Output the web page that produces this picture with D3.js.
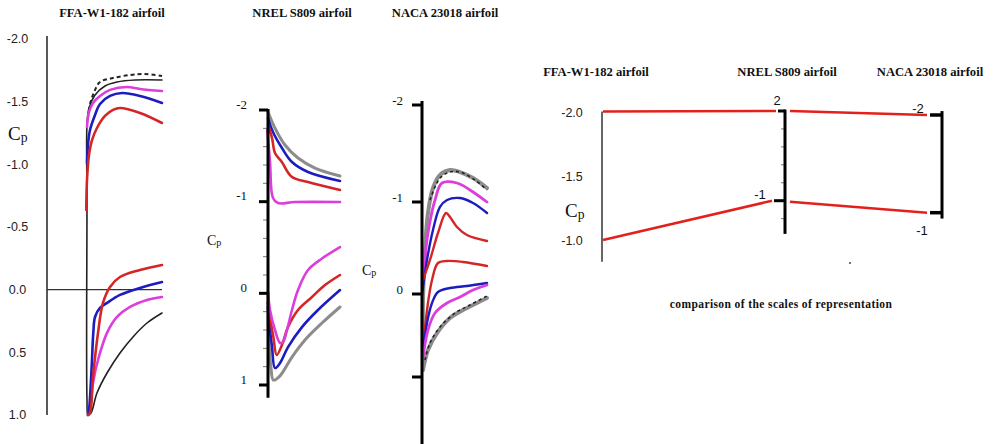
<!DOCTYPE html>
<html><head><meta charset="utf-8">
<script src="https://cdn.jsdelivr.net/npm/d3@7"></script>
<style>body{margin:0;background:#fff}svg{display:block}</style>
</head><body>
<svg id="c" width="993" height="444"></svg>
<script>
// ---------------- DATA ----------------
const titles = ["FFA-W1-182 airfoil", "NREL S809 airfoil", "NACA 23018 airfoil"];
const caption = "comparison of the scales of representation";

// FFA-W1-182 : [x/c (visible part), Cp]
const ffaTicks = [-2, -1.5, -1, -0.5, 0, 0.5, 1];
const ffaDashed = [[0.013,-1.37],[0.04,-1.482],[0.107,-1.593],[0.173,-1.657],[0.347,-1.689],[0.573,-1.713],[0.773,-1.721],[1.0,-1.705]];
const ffaBlack = [[1.0,0.186],[0.8,0.266],[0.613,0.377],[0.44,0.505],[0.267,0.665],[0.133,0.824],[0.053,0.984],[0.013,1.0],[0,0.88],[0,-0.716],[0,-1.314],[0.027,-1.45],[0.107,-1.553],[0.24,-1.625],[0.4,-1.657],[0.64,-1.673],[1.0,-1.673]];
const ffaMagentaUp = [[0,-1.298],[0.027,-1.418],[0.08,-1.49],[0.173,-1.546],[0.307,-1.594],[0.533,-1.617],[0.707,-1.601],[1.0,-1.585]];
const ffaBlueUp = [[0,-1.011],[0.013,-1.155],[0.04,-1.274],[0.107,-1.394],[0.173,-1.482],[0.307,-1.546],[0.467,-1.569],[0.707,-1.546],[1.0,-1.49]];
const ffaRedUp = [[-0.01,-0.636],[0,-0.875],[0.027,-1.075],[0.067,-1.194],[0.133,-1.29],[0.24,-1.386],[0.347,-1.434],[0.44,-1.45],[0.707,-1.41],[1.0,-1.33]];
const ffaRedLow = [[0.013,1.0],[0.04,0.984],[0.08,0.696],[0.147,0.345],[0.213,0.106],[0.307,-0.022],[0.44,-0.101],[0.707,-0.157],[1.0,-0.197]];
const ffaBlueLow = [[0.013,1.0],[0.027,0.96],[0.062,0.617],[0.084,0.345],[0.107,0.218],[0.173,0.146],[0.267,0.106],[0.44,0.042],[0.707,-0.014],[1.0,-0.061]];
const ffaMagentaLow = [[0.013,1.0],[0.04,0.936],[0.08,0.744],[0.147,0.561],[0.267,0.345],[0.4,0.218],[0.573,0.138],[0.8,0.082],[1.0,0.058]];

// NREL S809
const nrelTicks = [-2, -1, 0, 1];
const nrelTickLabels = ["-2", "-1", "0", "1"];
const nrelMinor = [-1.8,-1.6,-1.4,-1.2,-0.8,-0.6,-0.4,-0.2,0.2,0.4,0.6,0.8];
const nrelGrayUp = [[0,-1.978],[0.097,-1.803],[0.236,-1.618],[0.417,-1.476],[0.653,-1.367],[1.0,-1.28]];
const nrelBlueUp = [[0,-1.912],[0.069,-1.76],[0.194,-1.585],[0.333,-1.432],[0.556,-1.323],[1.0,-1.225]];
const nrelRedUp = [[0,-1.836],[0.056,-1.694],[0.097,-1.531],[0.19,-1.436],[0.329,-1.272],[0.556,-1.214],[1.0,-1.127]];
const nrelMagentaUp = [[-0.01,-1.781],[0.028,-1.432],[0.069,-1.04],[0.139,-0.985],[0.375,-0.996],[1.0,-0.996]];
const nrelMagentaLow = [[0,-0.017],[0.028,0.182],[0.097,0.4],[0.167,0.542],[0.208,0.531],[0.264,0.4],[0.333,0.182],[0.417,-0.036],[0.556,-0.254],[0.75,-0.38],[1.0,-0.505]];
const nrelRedLow = [[0,0.0],[0.005,0.146],[0.074,0.473],[0.12,0.673],[0.194,0.564],[0.278,0.368],[0.417,0.182],[0.611,0.04],[0.792,-0.09],[1.0,-0.2]];
const nrelBlueLow = [[0,0.1],[0.005,0.215],[0.056,0.586],[0.097,0.815],[0.167,0.76],[0.278,0.586],[0.472,0.368],[0.694,0.182],[1.0,-0.036]];
const nrelGrayLow = [[0,0.15],[0.01,0.477],[0.04,0.8],[0.075,0.946],[0.167,0.9],[0.333,0.695],[0.514,0.509],[0.75,0.324],[1.0,0.149]];

// NACA 23018
const nacaTicks = [-2, -1, 0, 1];
const nacaTickLabels = ["-2", "-1", "0", ""];
const nacaGrayUp = [[0.015,0.85],[0.015,0.072],[0.046,-0.478],[0.092,-0.88],[0.169,-1.144],[0.277,-1.28],[0.431,-1.33],[0.585,-1.309],[0.785,-1.247],[1.0,-1.144]];
const nacaDashUp = [[0.123,-1.021],[0.277,-1.247],[0.431,-1.309],[0.585,-1.309],[0.815,-1.227],[1.0,-1.124]];
const nacaMagentaUp = [[0.015,-0.185],[0.092,-0.663],[0.2,-1.021],[0.308,-1.196],[0.538,-1.196],[0.738,-1.124],[1.0,-1.0]];
const nacaBlueUp = [[0,0.012],[0.077,-0.37],[0.169,-0.696],[0.277,-0.946],[0.385,-1.021],[0.585,-1.041],[0.785,-0.989],[1.0,-0.88]];
const nacaRedUp = [[0.015,-0.152],[0.123,-0.37],[0.246,-0.663],[0.369,-0.88],[0.431,-0.837],[0.538,-0.728],[0.692,-0.641],[1.0,-0.576]];
const nacaRedLow = [[0.008,0.8],[0.015,0.675],[0.077,0.193],[0.154,-0.152],[0.246,-0.337],[0.385,-0.359],[0.631,-0.348],[1.0,-0.304]];
const nacaBlueLow = [[0.008,0.78],[0.015,0.711],[0.077,0.349],[0.154,0.108],[0.246,-0.022],[0.431,-0.065],[0.692,-0.087],[1.0,-0.12]];
const nacaMagentaLow = [[0.008,0.8],[0.015,0.759],[0.092,0.434],[0.2,0.229],[0.385,0.108],[0.585,0.036],[0.785,-0.043],[1.0,-0.098]];
const nacaGrayLow = [[0.015,0.916],[0.092,0.675],[0.231,0.47],[0.431,0.289],[0.631,0.193],[0.846,0.108],[1.0,0.048]];
const nacaDashLow = [[0.046,0.795],[0.123,0.59],[0.277,0.398],[0.508,0.229],[0.738,0.133],[1.0,0.024]];

// Comparison of the scales
const cmpValues = [-2, -1];
const cmpFfaTicks = [-2, -1.5, -1];
const cmpNrelLabels = ["2", "-1"];
const cmpNacaLabels = ["-2", "-1"];
const cmpNrelMinor = [-1.8, -1.6, -1.4, -1.2, -0.8];

// ---------------- DRAWING ----------------
const C = {red:"#d42626", blue:"#1c1cbf", magenta:"#dc3edc", gray:"#8c8c8c", black:"#2a2a2a", line:"#e3211c"};
const serif = "'Liberation Serif','Times New Roman',serif";
const sans = "'Liberation Sans',Arial,sans-serif";
const svg = d3.select("#c");
const fmt1 = v => d3.format(".1f")(v).replace("\u2212", "-");

function curve(g, data, x, y, color, w, dash) {
  const p = g.append("path").datum(data)
    .attr("d", d3.line().x(d => x(d[0])).y(d => y(d[1])).curve(d3.curveCatmullRom.alpha(0.5)))
    .attr("fill", "none").attr("stroke", color).attr("stroke-width", w)
    .attr("stroke-linejoin", "round").attr("stroke-linecap", "round");
  if (dash) p.attr("stroke-dasharray", dash).attr("stroke-linecap", "butt");
}
function title(x, y, t) {
  svg.append("text").attr("x", x).attr("y", y).attr("text-anchor", "middle")
    .attr("font-family", serif).attr("font-weight", "bold").attr("font-size", 12.6).attr("fill", "#111").text(t);
}
function cpLabel(x, y, size, fam) {
  const t = svg.append("text").attr("x", x).attr("y", y).attr("font-family", fam || serif)
    .attr("font-size", size).attr("fill", "#111");
  t.append("tspan").text("C");
  t.append("tspan").attr("font-size", size * 0.72).attr("dy", size * 0.1).text("p");
}

// ---- Panel 1 : FFA-W1-182
{
  const x = d3.scaleLinear([0, 1], [87, 162]);
  const y = d3.scaleLinear([-2, 1], [39, 415]);
  const g = svg.append("g");
  g.append("line").attr("x1", 47).attr("x2", 47).attr("y1", y(-2) - 3).attr("y2", y(1))
    .attr("stroke", "#222").attr("stroke-width", 1.5);
  g.append("line").attr("x1", 47).attr("x2", x(1)).attr("y1", y(0)).attr("y2", y(0))
    .attr("stroke", "#333").attr("stroke-width", 1.3);
  g.selectAll("text.t").data(ffaTicks).join("text").attr("class", "t")
    .attr("x", 17.5).attr("y", d => y(d)).attr("dy", "0.35em").attr("text-anchor", "middle")
    .attr("font-family", sans).attr("font-size", 12.5).attr("fill", "#222").text(fmt1);
  curve(g, ffaBlack, x, y, "#222", 1.6);
  curve(g, ffaDashed, x, y, "#222", 2, "4,3");
  curve(g, ffaMagentaUp, x, y, C.magenta, 2.6);
  curve(g, ffaBlueUp, x, y, C.blue, 2.6);
  curve(g, ffaRedUp, x, y, C.red, 2.6);
  curve(g, ffaMagentaLow, x, y, C.magenta, 2.6);
  curve(g, ffaBlueLow, x, y, C.blue, 2.6);
  curve(g, ffaRedLow, x, y, C.red, 2.6);
  title(112, 17, titles[0]);
  cpLabel(8, 140, 19);
}

// ---- Panel 2 : NREL S809
{
  const x = d3.scaleLinear([0, 1], [268, 340]);
  const y = d3.scaleLinear([-2, 1], [110, 385]);
  const g = svg.append("g");
  curve(g, nrelGrayUp, x, y, C.gray, 3);
  curve(g, nrelBlueUp, x, y, C.blue, 2.6);
  curve(g, nrelRedUp, x, y, C.red, 2.6);
  curve(g, nrelMagentaUp, x, y, C.magenta, 2.6);
  curve(g, nrelGrayLow, x, y, C.gray, 3);
  curve(g, nrelBlueLow, x, y, C.blue, 2.6);
  curve(g, nrelRedLow, x, y, C.red, 2.6);
  curve(g, nrelMagentaLow, x, y, C.magenta, 2.6);
  g.selectAll("line.mn").data(nrelMinor).join("line").attr("class", "mn")
    .attr("x1", 263).attr("x2", 267).attr("y1", d => y(d)).attr("y2", d => y(d))
    .attr("stroke", "#777").attr("stroke-width", 1);
  g.selectAll("line.mj").data(nrelTicks).join("line").attr("class", "mj")
    .attr("x1", 259).attr("x2", 268).attr("y1", d => y(d)).attr("y2", d => y(d))
    .attr("stroke", "#000").attr("stroke-width", 3);
  g.append("line").attr("x1", 268).attr("x2", 268).attr("y1", y(-2) - 1).attr("y2", y(1.14))
    .attr("stroke", "#000").attr("stroke-width", 3);
  g.selectAll("text.t").data(nrelTicks).join("text").attr("class", "t")
    .attr("x", 247).attr("y", d => y(d) - 6).attr("dy", "0.35em").attr("text-anchor", "end")
    .attr("font-family", serif).attr("font-size", 13).attr("fill", "#111").text((d, i) => nrelTickLabels[i]);
  title(302, 17, titles[1]);
  cpLabel(207, 245, 14);
}

// ---- Panel 3 : NACA 23018
{
  const x = d3.scaleLinear([0, 1], [422, 487]);
  const y = d3.scaleLinear().domain([-2, -1, 0, 1]).range([105, 202, 294, 377]);
  const g = svg.append("g");
  curve(g, nacaGrayUp, x, y, C.gray, 4);
  curve(g, nacaGrayLow, x, y, C.gray, 4);
  curve(g, nacaDashUp, x, y, "#222", 1.6, "3,3");
  curve(g, nacaDashLow, x, y, "#222", 1.6, "3,3");
  curve(g, nacaMagentaUp, x, y, C.magenta, 2.8);
  curve(g, nacaBlueUp, x, y, C.blue, 2.4);
  curve(g, nacaRedUp, x, y, C.red, 2.4);
  curve(g, nacaRedLow, x, y, C.red, 2.4);
  curve(g, nacaBlueLow, x, y, C.blue, 2.4);
  curve(g, nacaMagentaLow, x, y, C.magenta, 2.8);
  g.selectAll("line.mj").data(nacaTicks).join("line").attr("class", "mj")
    .attr("x1", 412).attr("x2", 422).attr("y1", d => y(d)).attr("y2", d => y(d))
    .attr("stroke", "#000").attr("stroke-width", 3);
  g.append("line").attr("x1", 422).attr("x2", 422).attr("y1", y(-2) - 4).attr("y2", 444)
    .attr("stroke", "#000").attr("stroke-width", 3);
  g.selectAll("text.t").data(nacaTicks).join("text").attr("class", "t")
    .attr("x", 403).attr("y", d => y(d) - 5).attr("dy", "0.35em").attr("text-anchor", "end")
    .attr("font-family", serif).attr("font-size", 13).attr("fill", "#111").text((d, i) => nacaTickLabels[i]);
  title(445, 17, titles[2]);
  cpLabel(362, 275, 14);
}

// ---- Panel 4 : comparison of the scales
{
  const g = svg.append("g");
  const ffaX = 602, nrelX = 785, nacaX = 942;
  const sF = d3.scaleLinear([-2, -1], [111.5, 240]);
  const sN = d3.scaleLinear([-2, -1], [111, 200.7]);
  const sA = d3.scaleLinear([-2, -1], [115, 212.7]);
  const nrelTickLen = v => v === -2 ? 7 : 11;
  g.selectAll("line.a").data(cmpValues).join("line").attr("class", "a")
    .attr("x1", ffaX + 1).attr("y1", d => sF(d))
    .attr("x2", d => nrelX - nrelTickLen(d) - 2).attr("y2", d => sN(d))
    .attr("stroke", C.line).attr("stroke-width", 2.6);
  g.selectAll("line.b").data(cmpValues).join("line").attr("class", "b")
    .attr("x1", nrelX + 5).attr("y1", d => sN(d) + (d === -1 ? 1 : 0))
    .attr("x2", nacaX - 15).attr("y2", d => sA(d))
    .attr("stroke", C.line).attr("stroke-width", 2.6);
  g.append("line").attr("x1", ffaX).attr("x2", ffaX).attr("y1", sF(-2)).attr("y2", sF(-0.83))
    .attr("stroke", "#333").attr("stroke-width", 1.5);
  g.selectAll("text.f").data(cmpFfaTicks).join("text").attr("class", "f")
    .attr("x", 572).attr("y", d => sF(d) + 1).attr("dy", "0.35em").attr("text-anchor", "middle")
    .attr("font-family", sans).attr("font-size", 12.5).attr("fill", "#222").text(fmt1);
  cpLabel(565, 217, 19);
  g.selectAll("line.nm").data(cmpNrelMinor).join("line").attr("class", "nm")
    .attr("x1", nrelX - 4).attr("x2", nrelX).attr("y1", d => sN(d)).attr("y2", d => sN(d))
    .attr("stroke", "#777").attr("stroke-width", 1);
  g.selectAll("line.nt").data(cmpValues).join("line").attr("class", "nt")
    .attr("x1", d => nrelX - nrelTickLen(d)).attr("x2", nrelX).attr("y1", d => sN(d)).attr("y2", d => sN(d))
    .attr("stroke", "#000").attr("stroke-width", 3);
  g.append("line").attr("x1", nrelX).attr("x2", nrelX).attr("y1", sN(-2) - 1.5).attr("y2", sN(-0.63))
    .attr("stroke", "#000").attr("stroke-width", 3);
  g.selectAll("text.n").data(cmpValues).join("text").attr("class", "n")
    .attr("x", (d, i) => i === 0 ? 777 : 760).attr("y", (d, i) => sN(d) - (i === 0 ? 11 : 6)).attr("dy", "0.35em")
    .attr("text-anchor", "middle").attr("font-family", sans).attr("font-size", 13).attr("fill", "#111")
    .text((d, i) => cmpNrelLabels[i]);
  g.selectAll("line.at").data(cmpValues).join("line").attr("class", "at")
    .attr("x1", nacaX - 12).attr("x2", nacaX).attr("y1", d => sA(d)).attr("y2", d => sA(d))
    .attr("stroke", "#000").attr("stroke-width", 3.5);
  g.append("line").attr("x1", nacaX).attr("x2", nacaX).attr("y1", sA(-2.04)).attr("y2", sA(-0.94))
    .attr("stroke", "#000").attr("stroke-width", 3);
  g.selectAll("text.an").data(cmpValues).join("text").attr("class", "an")
    .attr("x", (d, i) => i === 0 ? 918 : 922).attr("y", (d, i) => sA(d) + (i === 0 ? -7 : 18)).attr("dy", "0.35em")
    .attr("text-anchor", "middle").attr("font-family", sans).attr("font-size", 13).attr("fill", "#111")
    .text((d, i) => cmpNacaLabels[i]);
  g.append("circle").attr("cx", 850).attr("cy", 263).attr("r", 1).attr("fill", "#444");
  title(596, 76, titles[0]);
  title(787, 76, titles[1]);
  title(930, 76, titles[2]);
  svg.append("text").attr("x", 781).attr("y", 308).attr("text-anchor", "middle")
    .attr("font-family", serif).attr("font-weight", "bold").attr("font-size", 11.5)
    .attr("letter-spacing", 0.4).attr("fill", "#111").text(caption);
}
</script>
</body></html>
